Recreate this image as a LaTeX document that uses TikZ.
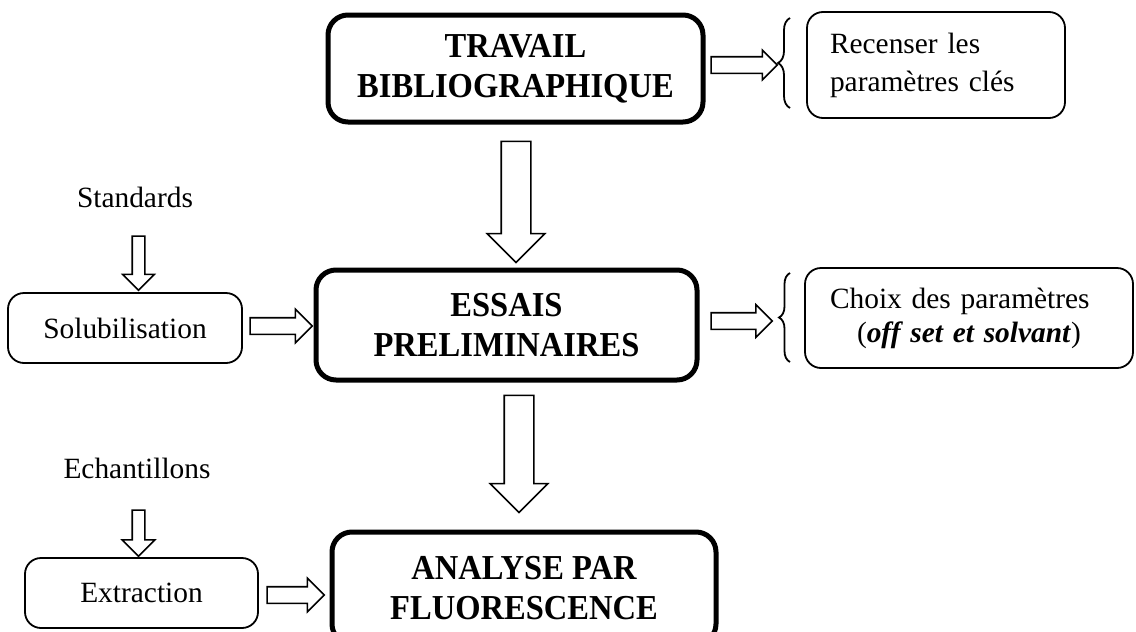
\documentclass[tikz,border=0pt]{standalone}
\usepackage{fontspec}
\setmainfont{Liberation Serif}
\newfontfamily\titlefont[FakeStretch=0.93]{Liberation Serif}
\usetikzlibrary{shapes.arrows,decorations.pathreplacing}
\begin{document}
\begin{tikzpicture}[x=0.5pt,y=-0.5pt,
  mainbox/.style={draw, line width=2.5pt, rounded corners=10pt, align=center, inner sep=0pt,
    font=\titlefont\bfseries\fontsize{17.5}{20}\selectfont},
  sidebox/.style={draw, line width=0.9pt, rounded corners=8pt, inner sep=0pt,
    font=\fontsize{14.7}{19}\selectfont},
  lbl/.style={inner sep=0pt, font=\fontsize{14.7}{17}\selectfont},
  blockarrow/.style n args={4}{draw, line width=0.8pt, fill=white, single arrow,
    single arrow head indent=0pt, single arrow tip angle=90,
    minimum height=#1, minimum width=#2, inner xsep=0pt, inner ysep=#3,
    single arrow head extend=#4, outer sep=0pt},
  bracket/.style={decorate, decoration={brace, amplitude=#1}, line width=0.9pt}
]
\useasboundingbox (0,0) rectangle (1136,632);
\clip (0,0) rectangle (1136,632);

% main boxes
\node[mainbox, minimum width=187.5pt, minimum height=53.5pt] (trav) at (515.5,68.5) {TRAVAIL\\BIBLIOGRAPHIQUE};
\node[mainbox, minimum width=190.5pt, minimum height=55pt] (ess) at (506.5,325) {ESSAIS\\PRELIMINAIRES};
\node[mainbox, minimum width=192pt, minimum height=56pt] (ana) at (524,588) {ANALYSE PAR\\FLUORESCENCE};

% side boxes
\node[sidebox, minimum height=53pt, text width=106pt, inner xsep=11.5pt, align=left] (rec) at (936,65)
  {Recenser les\\paramètres clés};
\node[sidebox, minimum height=50pt, text width=139pt, inner xsep=12.5pt, align=left,
  font=\fontsize{14.7}{17}\selectfont] (cho) at (969,318)
  {Choix des paramètres\\\hspace*{13.5pt}(\textbf{\textit{off set et solvant}})};
\node[sidebox, minimum width=117pt, minimum height=35pt] (sol) at (125,328) {Solubilisation};
\node[sidebox, minimum width=116.5pt, minimum height=35pt] (ext) at (141.5,593) {Extraction};

% labels
\node[lbl] (std) at (135,197) {Standards};
\node[lbl] (ech) at (137,468) {Echantillons};

% block arrows
\node[blockarrow={33pt}{14pt}{3.75pt}{3.25pt}] (a1) at (740,65) {};
\node[blockarrow={30.5pt}{15.5pt}{3.75pt}{4pt}] (a2) at (737.5,321) {};
\node[blockarrow={60.5pt}{28pt}{7pt}{7pt}, rotate=-90] (d1) at (516,194.5) {};
\node[blockarrow={58.5pt}{28pt}{7pt}{7pt}, rotate=-90] (d2) at (519,446.5) {};
\node[blockarrow={27pt}{15pt}{2.75pt}{4.75pt}, rotate=-90] (s1) at (138.5,260) {};
\node[blockarrow={23pt}{15.5pt}{2.75pt}{5pt}, rotate=-90] (e1) at (138.5,530) {};
\node[blockarrow={31pt}{16pt}{3.75pt}{4.25pt}] (sr) at (277,326) {};
\node[blockarrow={28.5pt}{16pt}{3.75pt}{4.25pt}] (xr) at (291.5,595) {};

% braces
\draw[bracket=6pt] (790,108) -- (790,18);
\draw[bracket=5.5pt] (790,362) -- (790,273);
\end{tikzpicture}
\end{document}
